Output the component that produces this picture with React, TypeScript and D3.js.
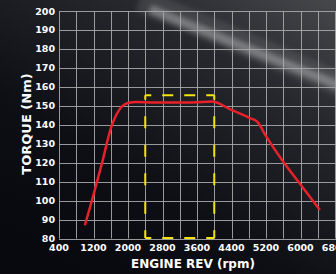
import React, { useEffect, useRef } from 'react';
import * as d3 from 'd3';

// torque curve
const rpm = [1000, 1200, 1400, 1600, 1800, 2000, 2200, 2600, 3000, 3500, 3950, 4400, 4800, 5000, 5200, 5600, 6000, 6450];
const torque = [87, 103, 120, 138, 148, 151.5, 152, 151.8, 151.8, 151.8, 152.3, 147.8, 143.8, 141.5, 134, 120.5, 108.5, 95];

const xTicks = [400, 1200, 2000, 2800, 3600, 4400, 5200, 6000, 6800];
const yTicks = [80, 90, 100, 110, 120, 130, 140, 150, 160, 170, 180, 190, 200];

// dashed yellow box
const boxRpm = [2400, 4000];
const boxTorque = [80, 155.5];

const W = 336;
const H = 274;

const App = () => {
  const ref = useRef<SVGSVGElement>(null);

  useEffect(() => {
    if (!ref.current) return;
    const svg = d3.select(ref.current);
    svg.selectAll('*').remove();

    const x = d3.scaleLinear().domain([400, 6800]).range([59, 335]);
    const y = d3.scaleLinear().domain([80, 200]).range([238.5, 11]);

    const defs = svg.append('defs');
    const bg = defs.append('linearGradient')
      .attr('id', 'bg')
      .attr('x1', 1).attr('y1', 0).attr('x2', 0.25).attr('y2', 1);
    bg.append('stop').attr('offset', 0).attr('stop-color', '#46484c');
    bg.append('stop').attr('offset', 0.3).attr('stop-color', '#26282d');
    bg.append('stop').attr('offset', 0.7).attr('stop-color', '#0e0f15');
    bg.append('stop').attr('offset', 1).attr('stop-color', '#08080f');

    defs.append('filter').attr('id', 'blur')
      .attr('x', -0.2).attr('y', -0.5).attr('width', 1.4).attr('height', 2)
      .append('feGaussianBlur').attr('stdDeviation', 2.5);

    svg.append('rect').attr('width', W).attr('height', H).attr('fill', 'url(#bg)');

    // light streak in the top right
    svg.append('line')
      .attr('x1', 140).attr('y1', 0).attr('x2', 350).attr('y2', 88)
      .attr('stroke', '#ffffff').attr('stroke-opacity', 0.1)
      .attr('stroke-width', 24).attr('filter', 'url(#blur)');
    svg.append('line')
      .attr('x1', 150).attr('y1', 9).attr('x2', 350).attr('y2', 90)
      .attr('stroke', '#ffffff').attr('stroke-opacity', 0.3)
      .attr('stroke-width', 9).attr('filter', 'url(#blur)');

    // grid
    const grid = svg.append('g').attr('stroke', '#a8a8aa').attr('stroke-width', 1).attr('stroke-opacity', 0.9);
    grid.selectAll('line.v')
      .data(d3.range(400, 6801, 400))
      .enter().append('line')
      .attr('x1', d => Math.round(x(d)) + 0.5).attr('x2', d => Math.round(x(d)) + 0.5)
      .attr('y1', y(200)).attr('y2', y(80));
    grid.selectAll('line.h')
      .data(yTicks)
      .enter().append('line')
      .attr('y1', d => Math.round(y(d)) + 0.5).attr('y2', d => Math.round(y(d)) + 0.5)
      .attr('x1', x(400)).attr('x2', W);

    const font = '"DejaVu Sans", sans-serif';

    // y tick labels
    svg.append('g').selectAll('text')
      .data(yTicks)
      .enter().append('text')
      .attr('x', 55).attr('y', d => y(d) + 3.5)
      .attr('text-anchor', 'end')
      .attr('fill', '#ffffff').attr('font-family', font)
      .attr('font-weight', 'bold').attr('font-size', 9.5)
      .text(d => d);

    // x tick labels (last one runs off the edge, as in the source)
    svg.append('g').selectAll('text')
      .data(xTicks)
      .enter().append('text')
      .attr('x', d => x(d)).attr('y', 251)
      .attr('text-anchor', 'middle')
      .attr('fill', '#ffffff').attr('font-family', font)
      .attr('font-weight', 'bold').attr('font-size', 9.5)
      .text(d => d);

    // axis titles
    svg.append('text')
      .attr('transform', 'translate(31,124) rotate(-90)')
      .attr('text-anchor', 'middle')
      .attr('fill', '#ffffff').attr('font-family', font)
      .attr('font-weight', 'bold').attr('font-size', 13)
      .text('TORQUE (Nm)');
    svg.append('text')
      .attr('x', 193).attr('y', 267.5)
      .attr('text-anchor', 'middle')
      .attr('fill', '#ffffff').attr('font-family', font)
      .attr('font-weight', 'bold').attr('font-size', 12)
      .text('ENGINE REV (rpm)');

    // dashed box
    const bx0 = x(boxRpm[0]);
    const bx1 = x(boxRpm[1]);
    const by0 = y(boxTorque[1]);
    const by1 = y(boxTorque[0]) - 0.5;
    const box = svg.append('g')
      .attr('stroke', '#f2e40c').attr('stroke-width', 2).attr('fill', 'none');
    [[bx0, by0, bx1, by0], [bx0, by1, bx1, by1]].forEach(([a, b, c, d]) => {
      box.append('line').attr('x1', a).attr('y1', b).attr('x2', c).attr('y2', d)
        .attr('stroke-dasharray', '11 11').attr('stroke-dashoffset', 5);
    });
    [[bx0, by0, bx0, by1], [bx1, by0, bx1, by1]].forEach(([a, b, c, d]) => {
      box.append('line').attr('x1', a).attr('y1', b).attr('x2', c).attr('y2', d)
        .attr('stroke-dasharray', '12 16.5').attr('stroke-dashoffset', 7.7);
    });

    // torque curve
    const line = d3.line<number>()
      .x((_, i) => x(rpm[i]))
      .y(d => y(d))
      .curve(d3.curveMonotoneX);
    svg.append('path')
      .datum(torque)
      .attr('d', line)
      .attr('fill', 'none')
      .attr('stroke', '#e8202a')
      .attr('stroke-width', 2.5)
      .attr('stroke-linejoin', 'round');
  }, []);

  return (
    <svg ref={ref} width={W} height={H}
      style={{ position: 'fixed', left: 0, top: 0, display: 'block' }} />
  );
};

export default App;
